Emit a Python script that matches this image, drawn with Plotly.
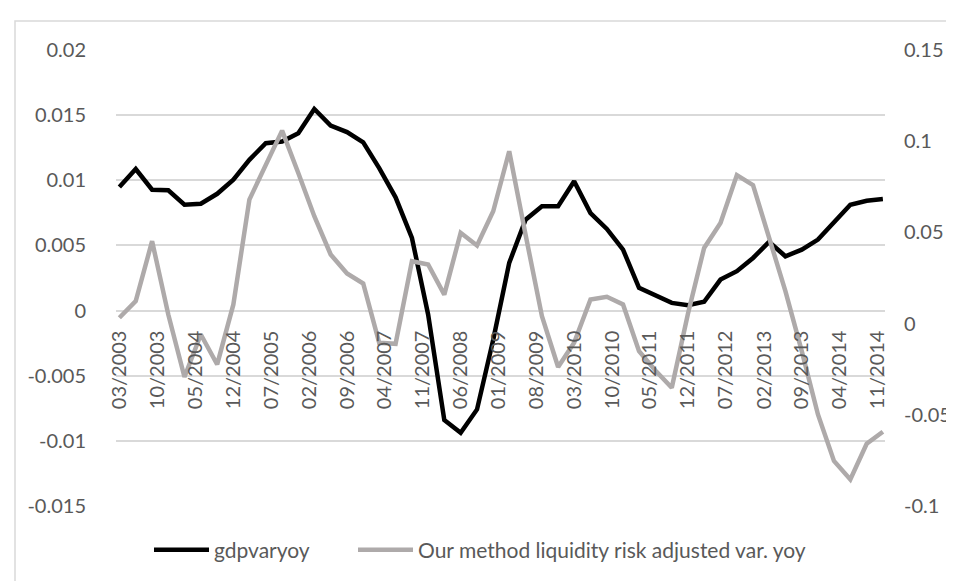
import plotly.graph_objects as go

# ---- data ----
dates = [f"{2003 + (2 + 3 * i) // 12}-{(2 + 3 * i) % 12 + 1:02d}-01" for i in range(48)]

gdpvaryoy = [
    0.00949, 0.01087, 0.00928, 0.00924, 0.00813, 0.00821, 0.00897, 0.01005,
    0.01158, 0.01286, 0.01299, 0.01363, 0.01549, 0.01422, 0.01371, 0.01292,
    0.01095, 0.00870, 0.00558, -0.00030, -0.00842, -0.00940, -0.00760, -0.00225,
    0.00366, 0.00698, 0.00801, 0.00801, 0.00993, 0.00749, 0.00627, 0.00468,
    0.00174, 0.00115, 0.00059, 0.00041, 0.00067, 0.00238, 0.00302, 0.00404,
    0.00527, 0.00417, 0.00468, 0.00545, 0.00680, 0.00813, 0.00844, 0.00857,
]

liq_var_yoy = [
    0.0032, 0.0123, 0.0452, 0.0050, -0.0293, -0.0060, -0.0224, 0.0105,
    0.0680, 0.0872, 0.1058, 0.0826, 0.0589, 0.0379, 0.0275, 0.0220,
    -0.0105, -0.0111, 0.0342, 0.0324, 0.0159, 0.0498, 0.0428, 0.0616,
    0.0945, 0.0487, 0.0041, -0.0238, -0.0105, 0.0132, 0.0147, 0.0105,
    -0.0151, -0.0257, -0.0352, 0.0054, 0.0415, 0.0552, 0.0814, 0.0759,
    0.0470, 0.0178, -0.0151, -0.0498, -0.0753, -0.0854, -0.0659, -0.0593,
]

left_tick_vals = [-0.015, -0.01, -0.005, 0, 0.005, 0.01, 0.015, 0.02]
left_tick_text = ["-0.015", "-0.01", "-0.005", "0", "0.005", "0.01", "0.015", "0.02"]
right_tick_vals = [-0.1, -0.05, 0, 0.05, 0.1, 0.15]
right_tick_text = ["-0.1", "-0.05", "0", "0.05", "0.1", "0.15"]

series1_name = "gdpvaryoy"
series2_name = "Our method liquidity risk adjusted var. yoy"

FONT = "Lato"
FS = 20
FS_LEG = 21
TXT = "#595959"
GRID = "#D9D9D9"

fig = go.Figure()
fig.add_trace(go.Scatter(
    x=dates, y=gdpvaryoy, name=series1_name, mode="lines",
    line=dict(color="#000000", width=4.5), yaxis="y", xaxis="x", legend="legend",
))
fig.add_trace(go.Scatter(
    x=dates, y=liq_var_yoy, name=series2_name, mode="lines",
    line=dict(color="#AEAAAA", width=4.5), yaxis="y2", xaxis="x", legend="legend2",
))

L, R, T, B = 108, 77, 42, 83
W, H = 954, 581
pw, ph = W - L - R, H - T - B

def px_x(p):
    return (p - L) / pw

def px_y(p):
    return (H - B - p) / ph

legend_common = dict(
    orientation="h", xanchor="left", y=px_y(542), yanchor="middle",
    font=dict(family=FONT, size=FS_LEG, color=TXT), bgcolor="rgba(0,0,0,0)",
    itemwidth=55, tracegroupgap=0,
)

fig.update_layout(
    width=W, height=H,
    margin=dict(l=L, r=R, t=T, b=B),
    paper_bgcolor="white", plot_bgcolor="white",
    font=dict(family=FONT, size=FS, color=TXT),
    showlegend=True,
    legend=dict(x=px_x(141), **legend_common),
    legend2=dict(x=px_x(345), **legend_common),
    xaxis=dict(
        type="date",
        range=["2003-02-10", "2014-12-13"],
        tick0="2003-03-01", dtick="M7", tickformat="%m/%Y",
        tickangle=-90, showgrid=False, zeroline=False, showline=False,
        ticks="", anchor="free", position=0.015 / 0.035,
        ticklabelstandoff=15,
        tickfont=dict(family=FONT, size=FS, color=TXT),
    ),
    yaxis=dict(
        range=[-0.01502, 0.02002], tickvals=left_tick_vals, ticktext=left_tick_text,
        showgrid=True, gridcolor=GRID, gridwidth=1.5, zeroline=False, showline=False,
        ticks="", ticklabelstandoff=29,
        tickfont=dict(family=FONT, size=FS, color=TXT),
    ),
    yaxis2=dict(
        range=[-0.1, 0.15], tickvals=right_tick_vals, ticktext=right_tick_text,
        overlaying="y", side="right", showgrid=False, zeroline=False, showline=False,
        ticks="", ticklabelstandoff=18,
        tickfont=dict(family=FONT, size=FS, color=TXT),
    ),
    shapes=[dict(
        type="rect", xref="paper", yref="paper",
        x0=px_x(7), x1=px_x(970), y0=px_y(600), y1=px_y(13),
        line=dict(color="#D9D9D9", width=1.5), fillcolor="rgba(0,0,0,0)", layer="below",
    )],
)

fig.write_html("out.html")
